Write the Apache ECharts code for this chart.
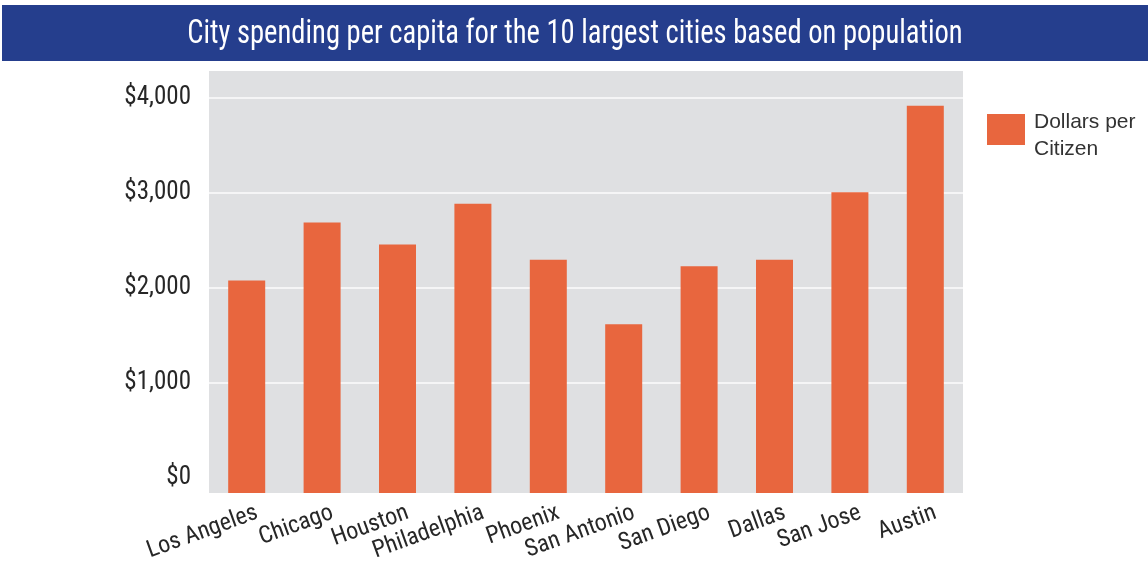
<!DOCTYPE html>
<html>
<head>
<meta charset="utf-8">
<script src="https://cdn.jsdelivr.net/npm/echarts@6/dist/echarts.min.js"></script>
<style>
  html, body { margin: 0; padding: 0; background: #fff; }
  #chart { width: 1148px; height: 567px; }
</style>
</head>
<body>
<div id="chart"></div>
<script>
// City spending per capita, ten largest US cities
const cities = ['Los Angeles', 'Chicago', 'Houston', 'Philadelphia', 'Phoenix',
                'San Antonio', 'San Diego', 'Dallas', 'San Jose', 'Austin'];
const dollarsPerCitizen = [2080, 2690, 2460, 2890, 2300, 1620, 2230, 2300, 3010, 3920];
const yTickValues = [0, 1000, 2000, 3000, 4000];
const seriesName = 'Dollars per Citizen';
const titleText = 'City spending per capita for the 10 largest cities based on population';

// The plotting area runs a little below the $0 line; bars reach down to its floor.
// These limits put the $0 line on a whole pixel, so bar and foot join cleanly.
const Y_MIN = -158;
const Y_MAX = 4287;
const barFoot = cities.map(() => Y_MIN);

const BAR_COLOR = '#e8663e';
const NARROW = '"Roboto Condensed", "DejaVu Sans Condensed", sans-serif';
const TEXT_COLOR = '#272727';

const chart = echarts.init(document.getElementById('chart'), null, { renderer: 'canvas' });

chart.setOption({
  animation: false,
  backgroundColor: '#ffffff',
  graphic: [
    { type: 'rect', left: 2, top: 5, shape: { width: 1146, height: 56 },
      style: { fill: '#253e8d' }, z: 0 },
    { type: 'text', x: 575, y: 35, scaleX: 0.866, z: 1,
      style: { text: titleText, fill: '#ffffff', font: '33px ' + NARROW,
               align: 'center', verticalAlign: 'middle' } }
  ],
  legend: {
    data: [seriesName],
    left: 987, top: 97.5,
    padding: 0,
    orient: 'vertical',
    icon: 'rect',
    itemWidth: 38, itemHeight: 31,
    formatter: () => '{s| }\n{t|Dollars per}\n{t|Citizen}',
    textStyle: {
      color: '#333333',
      rich: {
        s: { fontSize: 10, lineHeight: 12 },
        t: { fontFamily: '"Liberation Sans", Arial, sans-serif', fontSize: 21,
             lineHeight: 27, color: '#333333', padding: [0, 0, 0, 4] }
      }
    }
  },
  grid: {
    left: 209, right: 185, top: 71, bottom: 74,
    show: true, backgroundColor: '#dfe0e2', borderWidth: 0,
    containLabel: false
  },
  xAxis: {
    type: 'category',
    data: cities,
    axisLine: { show: false },
    axisTick: { show: false },
    axisLabel: {
      rotate: 20, margin: 23, interval: 0,
      fontFamily: NARROW, fontSize: 24, color: TEXT_COLOR,
      padding: [0, -11, 0, 0]
    }
  },
  yAxis: {
    type: 'value',
    min: Y_MIN, max: Y_MAX,
    axisLine: { show: false },
    axisTick: { show: false, customValues: yTickValues.slice(1) },
    axisLabel: {
      customValues: yTickValues,
      margin: 18,
      fontFamily: NARROW, fontSize: 25, color: TEXT_COLOR,
      formatter: v => '$' + v.toLocaleString('en-US')
    },
    splitLine: { show: true, lineStyle: { color: '#f5f5f6', width: 2 } }
  },
  series: [
    {
      name: 'foot', type: 'bar', stack: 'city', data: barFoot,
      barWidth: 37, itemStyle: { color: BAR_COLOR }, silent: true
    },
    {
      name: seriesName, type: 'bar', stack: 'city', data: dollarsPerCitizen,
      barWidth: 37, itemStyle: { color: BAR_COLOR }
    }
  ]
});
</script>
</body>
</html>
